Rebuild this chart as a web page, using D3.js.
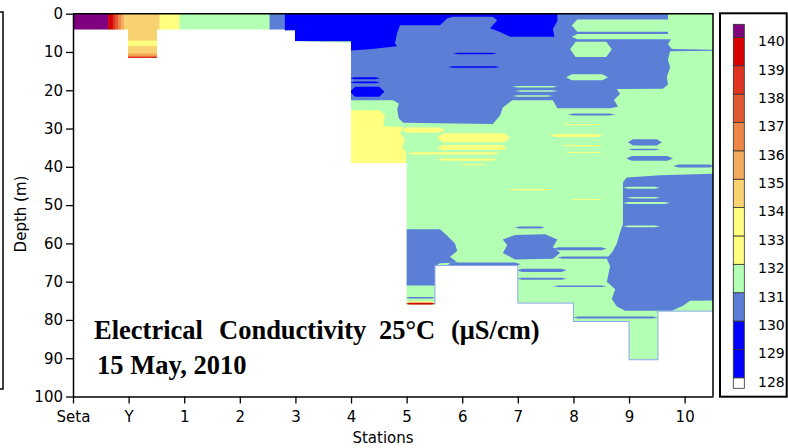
<!DOCTYPE html>
<html><head><meta charset="utf-8">
<script src="https://cdn.jsdelivr.net/npm/d3@7"></script>
<style>
html,body{margin:0;padding:0;background:#fff;}
svg{display:block;}
</style></head><body>
<svg id="chart" width="788" height="448"></svg>
<script>
// ---------- data ----------
const stations = ["Seta","Y","1","2","3","4","5","6","7","8","9","10"];
const depthTicks = [0,10,20,30,40,50,60,70,80,90,100];
const levels = [128,129,130,131,132,133,134,135,136,137,138,139,140];
const levelColors = ["#ffffff","#0000ff","#0000ff","#5b7fd7","#b3ffb3","#ffff80","#ffff80",
                     "#f8d271","#f4aa5b","#ee8745","#e35a32","#df3320","#d80000","#800080"];

// bottom of the sampled section: [station position, depth m]
const bottomProfile = [[0,4.1],[0.99,4.1],[0.99,11.6],[1.51,11.6],[1.51,4.1],[3.81,4.1],[3.81,4.4],
  [3.99,4.4],[3.99,7.2],[5.0,7.6],[5.0,39],[6.0,39],[6.0,76],[6.51,76],[6.51,65.8],[8.0,65.8],
  [8.0,75.6],[9.0,75.6],[9.0,80.4],[10.0,80.4],[10.0,90.4],[10.52,90.4],[10.52,77.7],[11.51,77.7]];

// surface strip, rectangular cells: [value µS/cm, station from, station to, depth from, depth to]
const surfaceCells = [
  [140.5,0,0.64,0,4.4],[139.5,0.64,0.72,0,4.4],[138.5,0.72,0.77,0,4.4],[137.5,0.77,0.82,0,4.4],
  [136.5,0.82,0.87,0,4.4],[135.5,0.87,0.92,0,4.4],[134.5,0.92,1.56,0,11.6],
  [133.5,0.99,1.51,7.1,8.4],[135.5,0.99,1.51,10.4,11.0],[136.5,0.99,1.51,11.0,11.3],[138.5,0.99,1.51,11.3,11.6],
  [133.5,1.56,1.92,0,4.4],[131.5,1.92,3.54,0,4.4],[130.5,3.54,3.85,0,4.4],
  [131.5,3.85,11.51,0,100]
];

// large water masses: {v: value, p: [[station, depth], ...]}
const massRegions = [
  {v:130.5, p:[[5.0,0],[10.70,0],[10.70,5.5],[10.77,6.3],[10.70,8],[10.77,9.2],[11.51,9.4],[11.51,9.7],
    [10.74,9.8],[10.70,12],[10.74,14],[10.68,16.5],[10.70,18.5],[10.61,19.6],[9.78,19.7],[9.84,21],
    [9.73,22.5],[9.80,24.3],[9.66,24.7],[8.71,24.7],[8.63,22.6],[7.90,22.6],[7.73,24.5],[7.68,26.6],
    [7.55,28.8],[5.94,28.5],[5.86,27.4],[5.83,25],[5.86,23.5],[5.76,22.6],[5.0,22.6]]},
  {v:129.5, p:[[3.81,0],[8.71,0],[8.71,2],[8.63,4],[8.66,6],[7.86,6],[7.68,4.8],[7.50,3.8],[7.63,1.7],
    [7.55,0.8],[6.83,0.8],[6.73,1.2],[6.60,3],[5.88,3],[5.83,5],[5.79,7.8],[5.83,8.5],[5.34,9.3],
    [5.0,9.6],[5.0,7.2],[3.99,7.2],[3.99,4.4],[3.81,4.4]]},
  {v:130.5, p:[[10.56,42.2],[11.51,41.8],[11.51,74.9],[11.10,75],[10.97,76.3],[10.77,77.6],[9.93,77.6],
    [9.78,76.5],[9.69,74.5],[9.75,72],[9.60,70],[9.66,66],[9.60,64],[9.71,62],[9.78,60],[9.84,57],
    [9.89,55],[9.89,44],[9.96,42.8]]},
  {v:130.5, p:[[5.99,56.3],[6.60,56.3],[6.73,58],[6.87,60],[6.91,62],[6.78,63.5],[6.91,65],[6.60,65.2],
    [6.51,66],[6.51,71],[5.99,71]]},
  {v:130.5, p:[[7.73,59],[7.95,57.8],[8.49,57.6],[8.71,59],[8.63,61],[8.76,62.5],[8.63,64],[7.95,64.2],
    [7.73,62.5],[7.81,60.5]]},
  {v:133.5, p:[[5.0,25.2],[5.52,25.2],[5.61,26.5],[5.58,29.4],[5.94,29.6],[5.88,31],[5.97,33],[5.92,35],
    [5.99,36],[5.99,39],[5.0,39]]}
];

// thin layers (tapered): [value, station from, station to, depth from, depth to]
const greenLayers = [
  [131.5,8.97,11.51,1.5,4.7],[131.5,8.97,11.51,5.3,6.7],[131.5,8.94,9.69,7.3,11.3],
  [131.5,8.87,9.62,15.8,17.4],[131.5,7.90,8.72,18.9,19.3],[131.5,7.95,8.72,20.0,20.4],
  [131.5,7.90,8.63,21.3,21.7],[131.5,9.89,10.56,45.2,45.7],[131.5,9.96,10.56,47.9,48.3],
  [131.5,9.89,10.74,49.2,49.7],[131.5,9.89,10.56,55.3,55.8]
];
const blueLayers = [
  [129.5,6.83,7.63,10.2,10.6],[129.5,6.74,7.68,13.7,14.1],[129.5,4.98,5.52,16.6,17.1],
  [129.5,4.98,5.52,17.7,18.2],[129.5,4.98,5.60,19.1,21.7]
];
const midBlueLayers = [
  [130.5,8.90,9.75,26.1,26.6],[130.5,9.98,10.59,32.8,34.4],[130.5,9.98,10.56,35.3,35.7],
  [130.5,9.95,10.79,37.2,38.4],[130.5,10.79,11.55,39.4,40.2],[130.5,7.95,8.49,55.6,56.1],
  [130.5,8.63,9.60,61.0,61.8],[130.5,8.71,9.78,63.4,64.0],[130.5,6.73,8.05,65.0,65.9],
  [130.5,7.98,8.88,66.6,67.5],[130.5,7.98,8.88,69.0,69.5],[130.5,8.63,9.60,71.0,71.4],
  [130.5,8.99,10.52,79.1,79.6],[130.5,5.97,6.53,74.0,74.4]
];
const yellowLayers = [
  [133.5,5.90,6.69,29.7,31.1],[133.5,6.55,7.86,31.2,33.6],[133.5,6.55,7.81,34.3,35.6],
  [133.5,6.01,7.68,36.2,36.8],[133.5,6.55,7.63,37.8,38.4],[133.5,6.96,7.45,39.3,39.6],
  [133.5,8.79,9.53,28.8,29.1],[133.5,8.58,9.53,31.4,32.2],[133.5,8.76,9.53,34.3,34.6],
  [133.5,8.85,9.53,36.1,36.4],[133.5,7.81,8.63,45.8,46.1],[133.5,8.94,9.53,48.4,48.7],
  [133.5,5.97,6.53,75.1,75.5],[139.5,5.97,6.53,75.5,76.0]
];

// ---------- drawing ----------
const svg = d3.select("#chart");
const x = d3.scaleLinear().domain([0, 11.51]).range([73, 713]);
const y = d3.scaleLinear().domain([0, 100]).range([13.7, 396.5]);
const color = d3.scaleThreshold().domain(levels).range(levelColors);
const line = d3.line().x(p => x(p[0])).y(p => y(p[1]));

svg.append("defs").append("clipPath").attr("id","dataClip")
  .append("path").attr("d", line([[0,0], ...bottomProfile, [11.51,0]]) + "Z");

const plot = svg.append("g").attr("clip-path","url(#dataClip)");

function rectPts(b){ const [v,s0,s1,d0,d1]=b; return [[s0,d0],[s1,d0],[s1,d1],[s0,d1]]; }
function lensPts(b){
  const [v,s0,s1,d0,d1]=b; const t=Math.min(0.1,(s1-s0)*0.15); const m=(d0+d1)/2;
  return [[s0,m],[s0+t,d0],[s1-t,d0],[s1,m],[s1-t,d1],[s0+t,d1]];
}

plot.append("g").selectAll("path").data(surfaceCells).join("path")
  .attr("d", b => line(rectPts(b)) + "Z").attr("fill", b => color(b[0]))
  .attr("stroke", b => color(b[0])).attr("stroke-width", 0.5);

plot.append("g").selectAll("path").data(massRegions).join("path")
  .attr("d", r => line(r.p) + "Z").attr("fill", r => color(r.v));

[greenLayers, blueLayers, midBlueLayers, yellowLayers].forEach(arr => {
  plot.append("g").selectAll("path").data(arr).join("path")
    .attr("d", b => line(lensPts(b)) + "Z").attr("fill", b => color(b[0]));
});

// faint outline along bottom of the deeper stations
svg.append("path").attr("d", line(bottomProfile.slice(13)))
  .attr("fill","none").attr("stroke","#8ea6ea").attr("stroke-width",1);

// axes
const font = "'DejaVu Sans', Verdana, sans-serif";
const yAxis = svg.append("g").attr("transform","translate(73,0)")
  .call(d3.axisLeft(y).tickValues(depthTicks).tickSize(7).tickPadding(3).tickSizeOuter(0));
const xAxis = svg.append("g").attr("transform",`translate(0,${y(100)})`)
  .call(d3.axisBottom(x).tickValues(d3.range(stations.length)).tickFormat(i => stations[i])
        .tickSize(7).tickPadding(8).tickSizeOuter(0));
[yAxis, xAxis].forEach(g => {
  g.selectAll("text").attr("font-family", font).attr("font-size", 15).attr("fill","#000");
  g.selectAll("line").attr("stroke","#000").attr("stroke-width",1.3);
  g.select(".domain").attr("stroke","#000").attr("stroke-width",1.5);
});
svg.append("path").attr("d", `M${x(0)},${y(0)}H${x(11.51)}V${y(100)}`)
  .attr("fill","none").attr("stroke","#000").attr("stroke-width",1.5);

svg.append("text").attr("transform","translate(26,214) rotate(-90)")
  .attr("text-anchor","middle").attr("font-family",font).attr("font-size",15).text("Depth (m)");
svg.append("text").attr("x",383).attr("y",442.5)
  .attr("text-anchor","middle").attr("font-family",font).attr("font-size",15).text("Stations");

// title
const title1 = ["Electrical","Conductivity","25°C","(μS/cm)"];
const title1X = [94, 219, 379, 451];
const tfont = "'Liberation Serif','Times New Roman',serif";
const t1 = svg.append("text").attr("y",338.5).attr("font-family",tfont).attr("font-weight","bold").attr("font-size",26.5);
title1.forEach((w,i) => t1.append("tspan").attr("x", title1X[i]).text(w));
svg.append("text").attr("x",97).attr("y",374).attr("font-family",tfont).attr("font-weight","bold")
  .attr("font-size",26.5).text("15 May, 2010");

// left neighbour frame fragment
svg.append("path").attr("d","M0,12H3V389H0").attr("fill","none").attr("stroke","#000").attr("stroke-width",1.5);

// legend
const legendY = d3.scaleLinear().domain([140.46, 127.63]).range([24.3, 388.3]);
const legendBins = levelColors.map((c,i) => ({
  c, top: i === levelColors.length-1 ? 140.46 : levels[i],
  bot: i === 0 ? 127.63 : levels[i-1]
}));
const lg = svg.append("g");
lg.append("rect").attr("x",720).attr("y",13.3).attr("width",66.7).attr("height",383.4)
  .attr("fill","#fff").attr("stroke","#000").attr("stroke-width",2);
lg.selectAll("rect.sw").data(legendBins).join("rect").attr("class","sw")
  .attr("x",733.3).attr("width",11)
  .attr("y", b => legendY(b.top)).attr("height", b => legendY(b.bot) - legendY(b.top))
  .attr("fill", b => b.c).attr("stroke","#333").attr("stroke-width",0.8);
lg.selectAll("text").data(levels).join("text")
  .attr("x",758).attr("y", v => legendY(v) + 4).attr("dy","0.35em")
  .attr("font-family",font).attr("font-size",14).text(v => v);
</script>
</body></html>
